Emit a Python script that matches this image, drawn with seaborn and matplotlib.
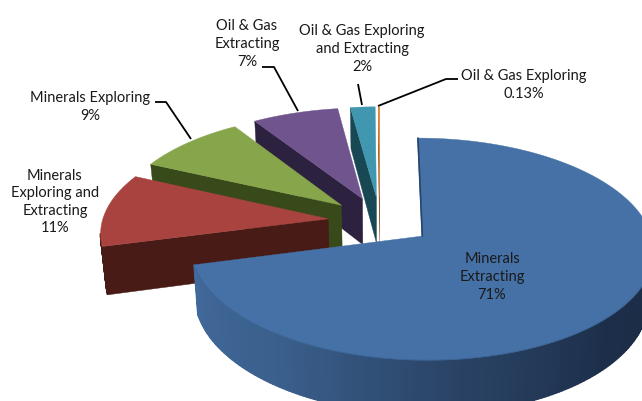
import numpy as np
import seaborn as sns
import matplotlib
matplotlib.use('Agg')
import matplotlib.pyplot as plt

# values, clockwise from 12 o'clock
categories = ["Minerals\nExtracting", "Minerals\nExploring and\nExtracting", "Minerals Exploring",
              "Oil & Gas\nExtracting", "Oil & Gas Exploring\nand Extracting", "Oil & Gas Exploring"]
shares = [71, 11, 9, 7, 2, 0.13]

top_colors = ["#4571A6", "#A84340", "#87A54B", "#70548E", "#4197AF", "#DB843D"]
wall_colors = ["#1A2B44", "#481B17", "#384A1A", "#2C2240", "#184854", "#8A4F20"]
label_pos = [(492, 277), (55, 202), (90, 107), (247, 44), (362, 49), (524, 85)]

# fake 3d projection settings (pixels)
CX, CY = 380, 222
RX, RY = 226, 106
PERSP = 0.115
EXPLODE = 0.23
DEPTH = 47
SHRINK = 0.98


def project(u, v, lower=False):
    s = 1 / (1 - PERSP * v)
    x = CX + RX * u * s * (SHRINK if lower else 1)
    y = CY + RY * v * s + (DEPTH * s if lower else 0)
    return x, y


sns.set_theme(style="white")
plt.rcParams['font.family'] = ['Lato', 'DejaVu Sans']

fig = plt.figure(figsize=(6.42, 4.02), dpi=100)
ax = fig.add_axes([0, 0, 1, 1])
ax.set_xlim(0, 642)
ax.set_ylim(402, 0)
ax.axis('off')

fracs = np.array(shares) / np.sum(shares)
edges = np.concatenate([[0], np.cumsum(fracs)]) * 2 * np.pi
main_wall = sns.blend_palette(["#1A2B44", "#1C2E49", "#2A4365", "#3A5F8C", "#41699B"], 160)

# painted back to front, so the big slice goes last
for i in range(len(shares) - 1, -1, -1):
    t0, t1 = edges[i], edges[i + 1]
    mid = (t0 + t1) / 2
    ou, ov = EXPLODE * np.sin(mid), -EXPLODE * np.cos(mid)
    th = np.linspace(t0, t1, max(int((t1 - t0) * 60), 6))
    ru, rv = ou + np.sin(th), ov - np.cos(th)

    # cut face along the start edge of the slice
    line_u = np.array([ou, ru[0]])
    line_v = np.array([ov, rv[0]])
    xa, ya = project(line_u, line_v)
    xb, yb = project(line_u, line_v, lower=True)
    if i > 0:
        ax.fill(np.r_[xa, xb[::-1]], np.r_[ya, yb[::-1]], color=wall_colors[i], lw=0.3, zorder=10 + 6 - i)

    # outer wall, only the segments turned to the viewer
    xt, yt = project(ru, rv)
    xl, yl = project(ru, rv, lower=True)
    for j in range(len(th) - 1):
        if xt[j + 1] >= xt[j]:
            continue
        if i == 0:
            k = int(np.clip((th[j] - np.pi / 2) / (edges[1] - np.pi / 2), 0, 1) * 159)
            c = main_wall[k]
        else:
            c = wall_colors[i]
        ax.fill([xt[j], xt[j + 1], xl[j + 1], xl[j]], [yt[j], yt[j + 1], yl[j + 1], yl[j]],
                color=c, lw=1.2, zorder=10 + 6 - i)

    # top face
    x0, y0 = project(ou, ov)
    ax.fill(np.r_[x0, xt], np.r_[y0, yt], color=top_colors[i], lw=0.3, zorder=10 + 6 - i)

    # thin dark rim on the main slice's cut edge
    if i == 0:
        ax.plot(xa + 0.5, ya, color="#27466E", lw=1.2, zorder=16)
        ax.plot(xt[th > np.pi / 2], yt[th > np.pi / 2], color="#3C6494", lw=0.6, zorder=17)

# labels
for name, val, (lx, ly), in zip(categories, shares, label_pos):
    ax.text(lx, ly, f"{name}\n{val:g}%", ha='center', va='center', fontsize=10.5,
            color="#1A1A1A", linespacing=1.32, zorder=30)

# leader lines
leaders = [([155, 166, 191], [103, 103, 140]),
           ([262, 274, 298], [68, 68, 112]),
           ([358, 362], [85, 106]),
           ([458, 446, 378], [80, 80, 107])]
for lx, ly in leaders:
    ax.plot(lx, ly, color="black", lw=1.3, zorder=25, solid_capstyle='butt')

fig.savefig("out.png", dpi=100, facecolor="white")
